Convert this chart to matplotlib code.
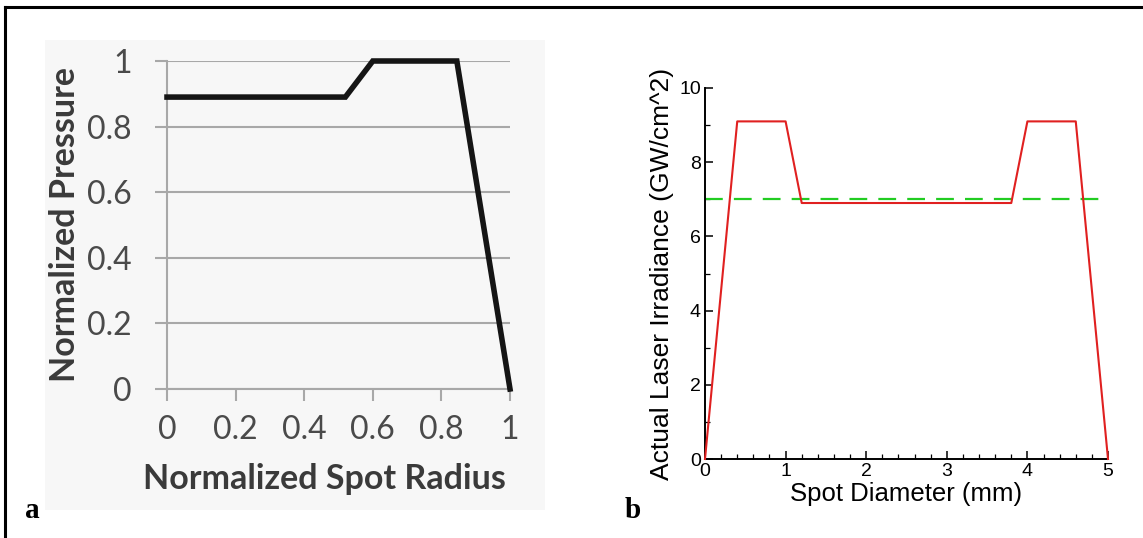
import matplotlib
matplotlib.use("Agg")
import matplotlib.pyplot as plt
from matplotlib.ticker import MultipleLocator
from matplotlib.patches import Rectangle
from matplotlib.lines import Line2D

# ------------ DATA ------------
# panel a: normalized pressure profile
radius_a = [0.0, 0.52, 0.60, 0.845, 1.0]
pressure_a = [0.89, 0.89, 1.0, 1.0, 0.0]
ticks_a = [0, 0.2, 0.4, 0.6, 0.8, 1]
tick_labels_a = ["0", "0.2", "0.4", "0.6", "0.8", "1"]

# panel b: actual laser irradiance across the spot
diameter_b = [0.0, 0.4, 1.0, 1.2, 3.8, 4.0, 4.6, 5.0]
irradiance_b = [0.0, 9.1, 9.1, 6.9, 6.9, 9.1, 9.1, 0.0]
threshold_x = [0.0, 5.0]
threshold_y = [7.0, 7.0]

W, H = 1143, 538


def px_axes(fig, x0, y0, x1, y1):
    # pixel box (top-left origin) -> figure fraction
    return fig.add_axes([x0 / W, (H - y1) / H, (x1 - x0) / W, (y1 - y0) / H])


fig = plt.figure(figsize=(W / 100, H / 100), dpi=100)

# faint grey backdrop of the scanned panel a
fig.patches.append(Rectangle((45 / W, (H - 510) / H), 500 / W, 470 / H,
                             transform=fig.transFigure, facecolor="#f7f7f7",
                             edgecolor="none", zorder=-5))

# frame lines (top and left only)
fig.add_artist(Line2D([5 / W, 1.0], [(H - 7) / H, (H - 7) / H], color="black", lw=2.2))
fig.add_artist(Line2D([5 / W, 5 / W], [0.0, (H - 7) / H], color="black", lw=2.2))

# ------------ PANEL A ------------
ax = px_axes(fig, 167, 61, 510, 389)
ax.set_facecolor("none")
ax.plot(radius_a, pressure_a, color="#151515", lw=4.0, solid_joinstyle="miter", zorder=3,
        clip_on=False)
ax.set_xlim(0, 1)
ax.set_ylim(0, 1)
ax.set_xticks(ticks_a)
ax.set_xticklabels(tick_labels_a)
ax.set_yticks(ticks_a)
ax.set_yticklabels(tick_labels_a)
ax.grid(axis="y", color="#a8a8a8", lw=1.5)
for s in ["top", "right"]:
    ax.spines[s].set_visible(False)
for s in ["left", "bottom"]:
    ax.spines[s].set_color("#a8a8a8")
    ax.spines[s].set_linewidth(1.5)
ax.tick_params(axis="both", colors="#a8a8a8", width=1.5, length=8.5,
               labelcolor="#4a4a4a", labelsize=23)
ax.tick_params(axis="x", pad=10)
ax.tick_params(axis="y", pad=17)
for lbl in ax.get_xticklabels() + ax.get_yticklabels():
    lbl.set_family("Lato")
ax.set_xlabel("Normalized Spot Radius", fontsize=24.5, fontweight="bold", color="#3a3a3a",
              family="Lato")
ax.xaxis.set_label_coords(0.46, -0.225)
ax.set_ylabel("Normalized Pressure", fontsize=24.5, fontweight="bold", color="#3a3a3a",
              family="Lato", labelpad=4)

# ------------ PANEL B ------------
bx = px_axes(fig, 705, 88, 1108, 459)
bx.plot(diameter_b, irradiance_b, color="#e02020", lw=1.5, zorder=3, clip_on=False)
bx.plot(threshold_x, threshold_y, color="#22cc22", lw=1.6, dashes=(8, 5), zorder=2)
bx.set_xlim(0, 5)
bx.set_ylim(0, 10)
bx.xaxis.set_major_locator(MultipleLocator(1))
bx.xaxis.set_minor_locator(MultipleLocator(0.2))
bx.yaxis.set_major_locator(MultipleLocator(2))
bx.yaxis.set_minor_locator(MultipleLocator(1))
for s in ["top", "right"]:
    bx.spines[s].set_visible(False)
for s in ["left", "bottom"]:
    bx.spines[s].set_linewidth(1.4)
bx.tick_params(which="major", direction="in", length=6, width=1.1, labelsize=14, pad=3)
bx.tick_params(which="minor", direction="in", length=3.5, width=0.9)
for lbl in bx.get_xticklabels() + bx.get_yticklabels():
    lbl.set_family("Liberation Sans")
bx.set_xlabel("Spot Diameter (mm)", fontsize=18.5, family="Liberation Sans", labelpad=1)
bx.set_ylabel("Actual Laser Irradiance (GW/cm^2)", fontsize=19, family="Liberation Sans",
              labelpad=4)

# panel letters
fig.text(25 / W, (H - 518) / H, "a", fontsize=21, fontweight="bold",
         family="Liberation Serif")
fig.text(625 / W, (H - 518) / H, "b", fontsize=21, fontweight="bold",
         family="Liberation Serif")

fig.savefig("out.png", dpi=100)
